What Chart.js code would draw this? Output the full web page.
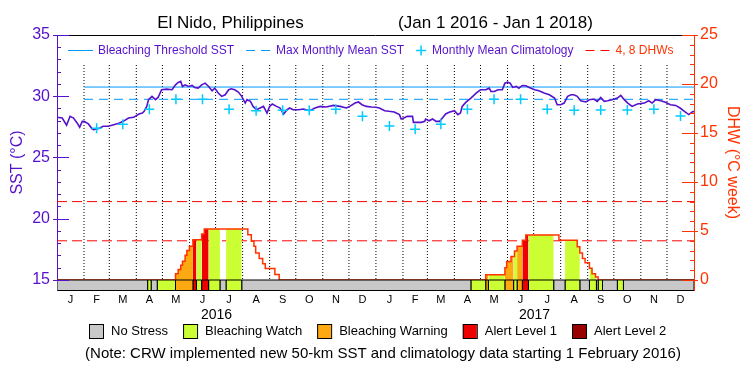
<!DOCTYPE html>
<html>
<head>
<meta charset="utf-8">
<title>El Nido, Philippines</title>
<script src="https://cdn.jsdelivr.net/npm/chart.js@4.4.1/dist/chart.umd.min.js"></script>
<style>
  html, body { margin: 0; padding: 0; background: #fff; }
  canvas { display: block; }
</style>
</head>
<body>
<canvas id="crw" width="750" height="375"></canvas>
<script>
// x values are days counted from Jan 1 2016 (day 731 = Jan 1 2018)
const SST_DAYS = [0,6,11,15,19,23,26,29,31,36,40,42,48,53,59,65,71,76,82,88,94,98,100,103,105,109,113,116,120,126,
  132,136,139,142,144,147,151,155,158,162,166,170,174,178,181,185,189,193,197,200,204,208,212,216,218,222,225,229,233,237,
  241,244,247,252,256,260,264,267,271,277,283,290,296,302,309,317,325,332,336,342,346,350,355,361,
  366,370,376,381,387,393,395,398,402,408,409,418,422,423,427,431,435,439,443,446,450,456,460,463,465,469,475,481,486,492,
  496,498,502,506,511,514,517,520,523,527,530,534,538,542,548,553,559,565,571,574,578,582,586,590,593,597,601,607,611,616,
  620,624,628,632,637,643,647,651,655,660,666,674,679,683,687,693,698,704,710,715,720,725,729,731];
const SST_VALUES = [28.28,28.22,27.63,28.36,28.22,27.82,27.47,27.95,27.95,27.74,27.36,27.28,27.36,27.55,27.55,27.68,27.79,27.95,28.22,28.28,
  28.55,28.63,28.77,29.17,29.72,29.99,29.72,29.9,30.53,30.58,30.53,30.93,31.12,31.21,30.8,30.93,30.8,30.88,30.72,30.66,
  30.93,31.07,30.8,30.45,30.66,30.26,29.99,30.12,30.53,30.61,30.53,30.34,29.99,29.44,29.72,29.58,29.17,28.9,29.04,29.17,
  28.63,29.17,29.36,29.17,29.04,28.55,28.9,29.04,28.9,28.9,28.96,28.82,29.04,29.17,29.12,29.25,29.17,29.04,29.17,29.44,
  29.53,29.31,29.17,29.12,
  29.1,29.04,28.82,28.77,28.72,28.5,28.14,28.22,28.36,28.36,27.87,27.87,27.95,28.14,28.0,28.14,27.95,27.95,28.28,28.55,
  28.69,28.82,28.5,28.63,29.17,29.5,29.85,30.26,30.53,30.53,30.66,30.39,30.39,30.53,30.53,31.07,31.15,31.07,30.72,30.8,
  30.66,30.88,30.86,30.72,30.53,30.45,30.26,30.12,29.85,29.31,29.31,29.44,29.99,30.12,30.12,29.99,29.63,29.53,29.72,29.77,
  29.58,29.9,29.58,29.63,29.72,29.85,30.07,29.72,29.44,29.17,29.36,29.44,29.63,29.44,29.72,29.63,29.5,29.31,29.25,29.04,
  28.77,28.5,28.72,28.77];

// monthly mean climatology (no value shown for Jan 2016)
const CLIM_DAYS = [45.5,75.5,106,136.5,167,197.5,228.5,259,289.5,320,350.5,
  381.5,411,440.5,471,501.5,532,562.5,593.5,624,654.5,685,715.5];
const CLIM_VALUES = [27.38,27.71,28.93,29.75,29.75,28.93,28.82,28.85,28.85,28.93,28.37,
  27.57,27.3,27.71,28.93,29.75,29.75,28.93,28.85,28.88,28.88,28.93,28.39];
const MMM = 29.75;
const BLEACH_THRESHOLD = 30.75;
const NEW_DATA_START = 31;

// degree heating weeks, step values from each day on
const DHW_DAYS = [0,136,139,142,144,147,149,152,156,166,169,219,223,226,228,232,236,239,250,255,
  492,514,516,521,525,528,534,538,576,597,600,603,606,611,614,618,621,731];
const DHW_VALUES = [0,0.63,1.07,1.5,1.92,2.53,3.0,3.45,4.12,4.7,5.2,4.63,3.95,3.45,2.76,2.19,1.65,1.17,0.56,0,
  0.53,1.25,1.9,2.4,2.95,3.45,4.05,4.6,4.05,3.4,2.75,2.2,1.75,1.2,0.65,0.3,0,0];
const DHW_LEVELS = [4, 8];

// stress level runs: 0 no stress, 1 watch, 2 warning, 3 alert 1, 4 alert 2
const STRESS_START = [0,104,108,115,136,156,160,166,174,187,194,212,
  475,492,495,514,524,528,534,541,570,583,600,611,619,621,626,643,650];
const STRESS_LEVEL = [0,1,0,1,2,3,1,3,1,0,1,0,
  1,2,1,2,1,2,3,1,0,1,0,1,0,1,0,1,0];
const STRESS_NAMES = ['No Stress', 'Bleaching Watch', 'Bleaching Warning', 'Alert Level 1', 'Alert Level 2'];
const STRESS_COLORS = ['#c8c8c8', '#ccff33', '#fdaa12', '#ee0000', '#990000'];

const MONTH_LABELS = ['J','F','M','A','M','J','J','A','S','O','N','D','J','F','M','A','M','J','J','A','S','O','N','D'];
const MONTH_MID = [15.5,45.5,75.5,106,136.5,167,197.5,228.5,259,289.5,320,350.5,
  381.5,411,440.5,471,501.5,532,562.5,593.5,624,654.5,685,715.5];
const MONTH_START = [31,60,91,121,152,182,213,244,274,305,335,366,397,425,456,486,517,547,578,609,639,670,700];
const YEAR_LABELS = ['2016', '2017'];
const YEAR_MID = [183, 548];
const SST_TICKS = [15, 20, 25, 30, 35];
const DHW_TICKS = [0, 5, 10, 15, 20, 25];

const SST_COLOR = '#5511cc';
const DHW_COLOR = '#ff3300';
const THRESH_COLOR = '#0099ff';
const CLIM_COLOR = '#00ccff';
const DHW_MIN = -1.02; // room for the stress bar under the zero line

Chart.defaults.font.family = "'Liberation Sans', Arial, sans-serif";

const pts = (xs, ys) => xs.map((x, i) => ({ x: x, y: ys[i] }));

function dhwAt(day) {
  let v = 0;
  DHW_DAYS.forEach((d, i) => { if (d <= day) v = DHW_VALUES[i]; });
  return v;
}

const runs = STRESS_START.map((s, i) => ({
  start: s,
  end: i + 1 < STRESS_START.length ? STRESS_START[i + 1] : 731,
  level: STRESS_LEVEL[i]
}));

const datasets = [];

// dotted month separators
datasets.push({
  data: MONTH_START.flatMap(d => [{ x: d, y: 32.55 }, { x: d, y: 15 }, { x: d, y: null }]),
  yAxisID: 'y', borderColor: '#000', borderWidth: 1, borderDash: [1, 2],
  pointRadius: 0, fill: false, order: 7
});

// 4 and 8 DHW reference lines
DHW_LEVELS.forEach(v => datasets.push({
  data: [{ x: 0, y: v }, { x: 731, y: v }],
  yAxisID: 'y2', borderColor: '#ff0000', borderWidth: 1, borderDash: [10, 5],
  pointRadius: 0, fill: false, order: 6
}));

// bleaching threshold and MMM
datasets.push({
  data: [{ x: NEW_DATA_START, y: BLEACH_THRESHOLD }, { x: 731, y: BLEACH_THRESHOLD }],
  yAxisID: 'y', borderColor: THRESH_COLOR, borderWidth: 1, pointRadius: 0, fill: false, order: 5
});
datasets.push({
  data: [{ x: NEW_DATA_START, y: MMM }, { x: 731, y: MMM }],
  yAxisID: 'y', borderColor: THRESH_COLOR, borderWidth: 1, borderDash: [9, 6],
  pointRadius: 0, fill: false, order: 5
});

// area under the DHW curve, coloured by stress level
runs.filter(r => r.level > 0).forEach(r => {
  const area = [{ x: r.start, y: dhwAt(r.start) }];
  DHW_DAYS.forEach((d, i) => { if (d > r.start && d < r.end) area.push({ x: d, y: DHW_VALUES[i] }); });
  area.push({ x: r.end, y: dhwAt(r.end - 0.5) });
  datasets.push({
    data: area, yAxisID: 'y2', stepped: true,
    borderWidth: 0, borderColor: 'transparent', backgroundColor: STRESS_COLORS[r.level],
    pointRadius: 0, fill: 'origin', order: 4
  });
});

// DHW outline
datasets.push({
  data: pts(DHW_DAYS, DHW_VALUES), yAxisID: 'y2', stepped: true,
  borderColor: DHW_COLOR, borderWidth: 1.5, pointRadius: 0, fill: false, order: 3
});

// stress bar below the axis
runs.forEach(r => datasets.push({
  data: [{ x: r.start, y: DHW_MIN }, { x: r.start, y: 0 }, { x: r.end, y: 0 }, { x: r.end, y: DHW_MIN }],
  yAxisID: 'y2', stepped: true,
  borderColor: '#000', borderWidth: 1, backgroundColor: STRESS_COLORS[r.level],
  pointRadius: 0, fill: 'start', order: 2
}));

// SST
datasets.push({
  data: pts(SST_DAYS, SST_VALUES), yAxisID: 'y',
  borderColor: SST_COLOR, borderWidth: 1.6, pointRadius: 0, fill: false, order: 1
});

// climatology crosses
datasets.push({
  data: pts(CLIM_DAYS, CLIM_VALUES), yAxisID: 'y', showLine: false,
  pointStyle: 'cross', pointRadius: 5, borderColor: CLIM_COLOR, pointBorderWidth: 1.5, order: 0
});

const crwDecor = {
  id: 'crwDecor',
  afterDatasetsDraw(chart) {
    const { ctx, chartArea: a, scales } = chart;
    ctx.save();
    // top frame
    ctx.strokeStyle = '#000';
    ctx.lineWidth = 1;
    ctx.beginPath();
    ctx.moveTo(a.left, a.top + 0.5);
    ctx.lineTo(a.right, a.top + 0.5);
    ctx.stroke();

    // inward axis ticks, every 1 unit
    const ticks = (scale, x0, dir, color, lo, hi) => {
      ctx.strokeStyle = color;
      for (let v = lo; v <= hi; v++) {
        const y = Math.round(scale.getPixelForValue(v)) + 0.5;
        const major = v % 5 === 0;
        ctx.beginPath();
        ctx.moveTo(x0 - dir * (major ? 4 : 0), y);
        ctx.lineTo(x0 + dir * (major ? 12 : 4), y);
        ctx.stroke();
      }
    };
    ticks(scales.y, a.left, 1, SST_COLOR, 15, 35);
    ticks(scales.y2, a.right, -1, DHW_COLOR, 0, 25);

    // legend inside the plot
    const items = [
      { text: 'Bleaching Threshold SST', mark: 'line', color: THRESH_COLOR, dash: [] },
      { text: 'Max Monthly Mean SST', mark: 'line', color: THRESH_COLOR, dash: [9, 6] },
      { text: 'Monthly Mean Climatology', mark: 'cross', color: CLIM_COLOR },
      { text: '4, 8 DHWs', mark: 'line', color: '#ff0000', dash: [9, 6], textColor: DHW_COLOR }
    ];
    const ly = 50.5;
    let x = a.left + 11;
    ctx.font = "12px 'Liberation Sans', Arial, sans-serif";
    ctx.textBaseline = 'middle';
    ctx.textAlign = 'left';
    items.forEach(it => {
      ctx.strokeStyle = it.color;
      if (it.mark === 'line') {
        ctx.lineWidth = 1;
        ctx.setLineDash(it.dash);
        ctx.beginPath();
        ctx.moveTo(x, ly);
        ctx.lineTo(x + 25, ly);
        ctx.stroke();
        ctx.setLineDash([]);
        x += 30;
      } else {
        ctx.lineWidth = 1.5;
        ctx.beginPath();
        ctx.moveTo(x, ly); ctx.lineTo(x + 10, ly);
        ctx.moveTo(x + 5, ly - 5); ctx.lineTo(x + 5, ly + 5);
        ctx.stroke();
        x += 16;
      }
      ctx.fillStyle = it.textColor || SST_COLOR;
      ctx.fillText(it.text, x, ly);
      x += ctx.measureText(it.text).width + 12;
    });
    ctx.restore();
  },
  afterDraw(chart) {
    const { ctx } = chart;
    ctx.save();
    ctx.font = "13px 'Liberation Sans', Arial, sans-serif";
    ctx.textBaseline = 'middle';
    ctx.textAlign = 'left';
    const widths = STRESS_NAMES.map(t => ctx.measureText(t).width);
    const total = widths.reduce((s, w) => s + w + 22, 0) + 15 * (STRESS_NAMES.length - 1);
    let x = Math.round(378 - total / 2);
    STRESS_NAMES.forEach((t, i) => {
      ctx.fillStyle = STRESS_COLORS[i];
      ctx.fillRect(x, 324, 14, 14);
      ctx.strokeStyle = '#000';
      ctx.lineWidth = 1;
      ctx.strokeRect(x + 0.5, 324.5, 14, 14);
      ctx.fillStyle = '#000';
      ctx.fillText(t, x + 22, 331.5);
      x += 22 + widths[i] + 15;
    });
    ctx.font = "15px 'Liberation Sans', Arial, sans-serif";
    ctx.textAlign = 'center';
    ctx.fillText('(Note: CRW implemented new 50-km SST and climatology data starting 1 February 2016)', 383, 354);
    ctx.restore();
  }
};

new Chart(document.getElementById('crw'), {
  type: 'line',
  data: { datasets: datasets },
  options: {
    responsive: false,
    animation: false,
    events: [],
    layout: { padding: { top: 0, left: 0, right: 0, bottom: 51 }, autoPadding: false },
    plugins: {
      legend: { display: false },
      tooltip: { enabled: false },
      title: {
        display: true,
        text: 'El Nido, Philippines' + ' '.repeat(20) + '(Jan 1 2016 - Jan 1 2018)',
        color: '#000',
        font: { size: 17, weight: 'normal', lineHeight: 1.2 },
        padding: { top: 13, bottom: 1.6 }
      }
    },
    scales: {
      x: {
        type: 'linear', min: 0, max: 731,
        grid: { display: false, drawTicks: false },
        border: { display: true, color: '#000' },
        ticks: {
          autoSkip: false, maxRotation: 0, minRotation: 0, padding: 3, color: '#000',
          font: { size: 11 },
          callback: (v, i) => MONTH_LABELS[i]
        },
        afterBuildTicks: s => { s.ticks = MONTH_MID.map(v => ({ value: v })); },
        afterFit: s => { s.height = 16; }
      },
      xYear: {
        type: 'linear', position: 'bottom', weight: 1, min: 0, max: 731,
        grid: { display: false, drawTicks: false },
        border: { display: false },
        ticks: {
          autoSkip: false, maxRotation: 0, minRotation: 0, padding: 1, color: '#000',
          font: { size: 14 },
          callback: (v, i) => YEAR_LABELS[i]
        },
        afterBuildTicks: s => { s.ticks = YEAR_MID.map(v => ({ value: v })); },
        afterFit: s => { s.height = 18; }
      },
      y: {
        type: 'linear', position: 'left', min: 14.18, max: 35,
        grid: { display: false, drawTicks: false },
        border: { display: true, color: SST_COLOR },
        ticks: { padding: 7, color: SST_COLOR, font: { size: 16 }, callback: v => String(v) },
        afterBuildTicks: s => { s.ticks = SST_TICKS.map(v => ({ value: v })); },
        title: { display: true, text: 'SST (°C)', color: SST_COLOR, font: { size: 16 }, padding: { top: 8, bottom: 0 } },
        afterFit: s => { s.width = 57; }
      },
      y2: {
        type: 'linear', position: 'right', min: DHW_MIN, max: 25,
        grid: { display: false, drawTicks: false },
        border: { display: true, color: DHW_COLOR },
        ticks: { padding: 6, color: DHW_COLOR, font: { size: 16 }, callback: v => String(v) },
        afterBuildTicks: s => { s.ticks = DHW_TICKS.map(v => ({ value: v })); },
        title: { display: true, text: 'DHW (°C week)', color: DHW_COLOR, font: { size: 16 }, padding: { top: 8, bottom: 0 } },
        afterFit: s => { s.width = 56; }
      }
    }
  },
  plugins: [crwDecor]
});
</script>
</body>
</html>
